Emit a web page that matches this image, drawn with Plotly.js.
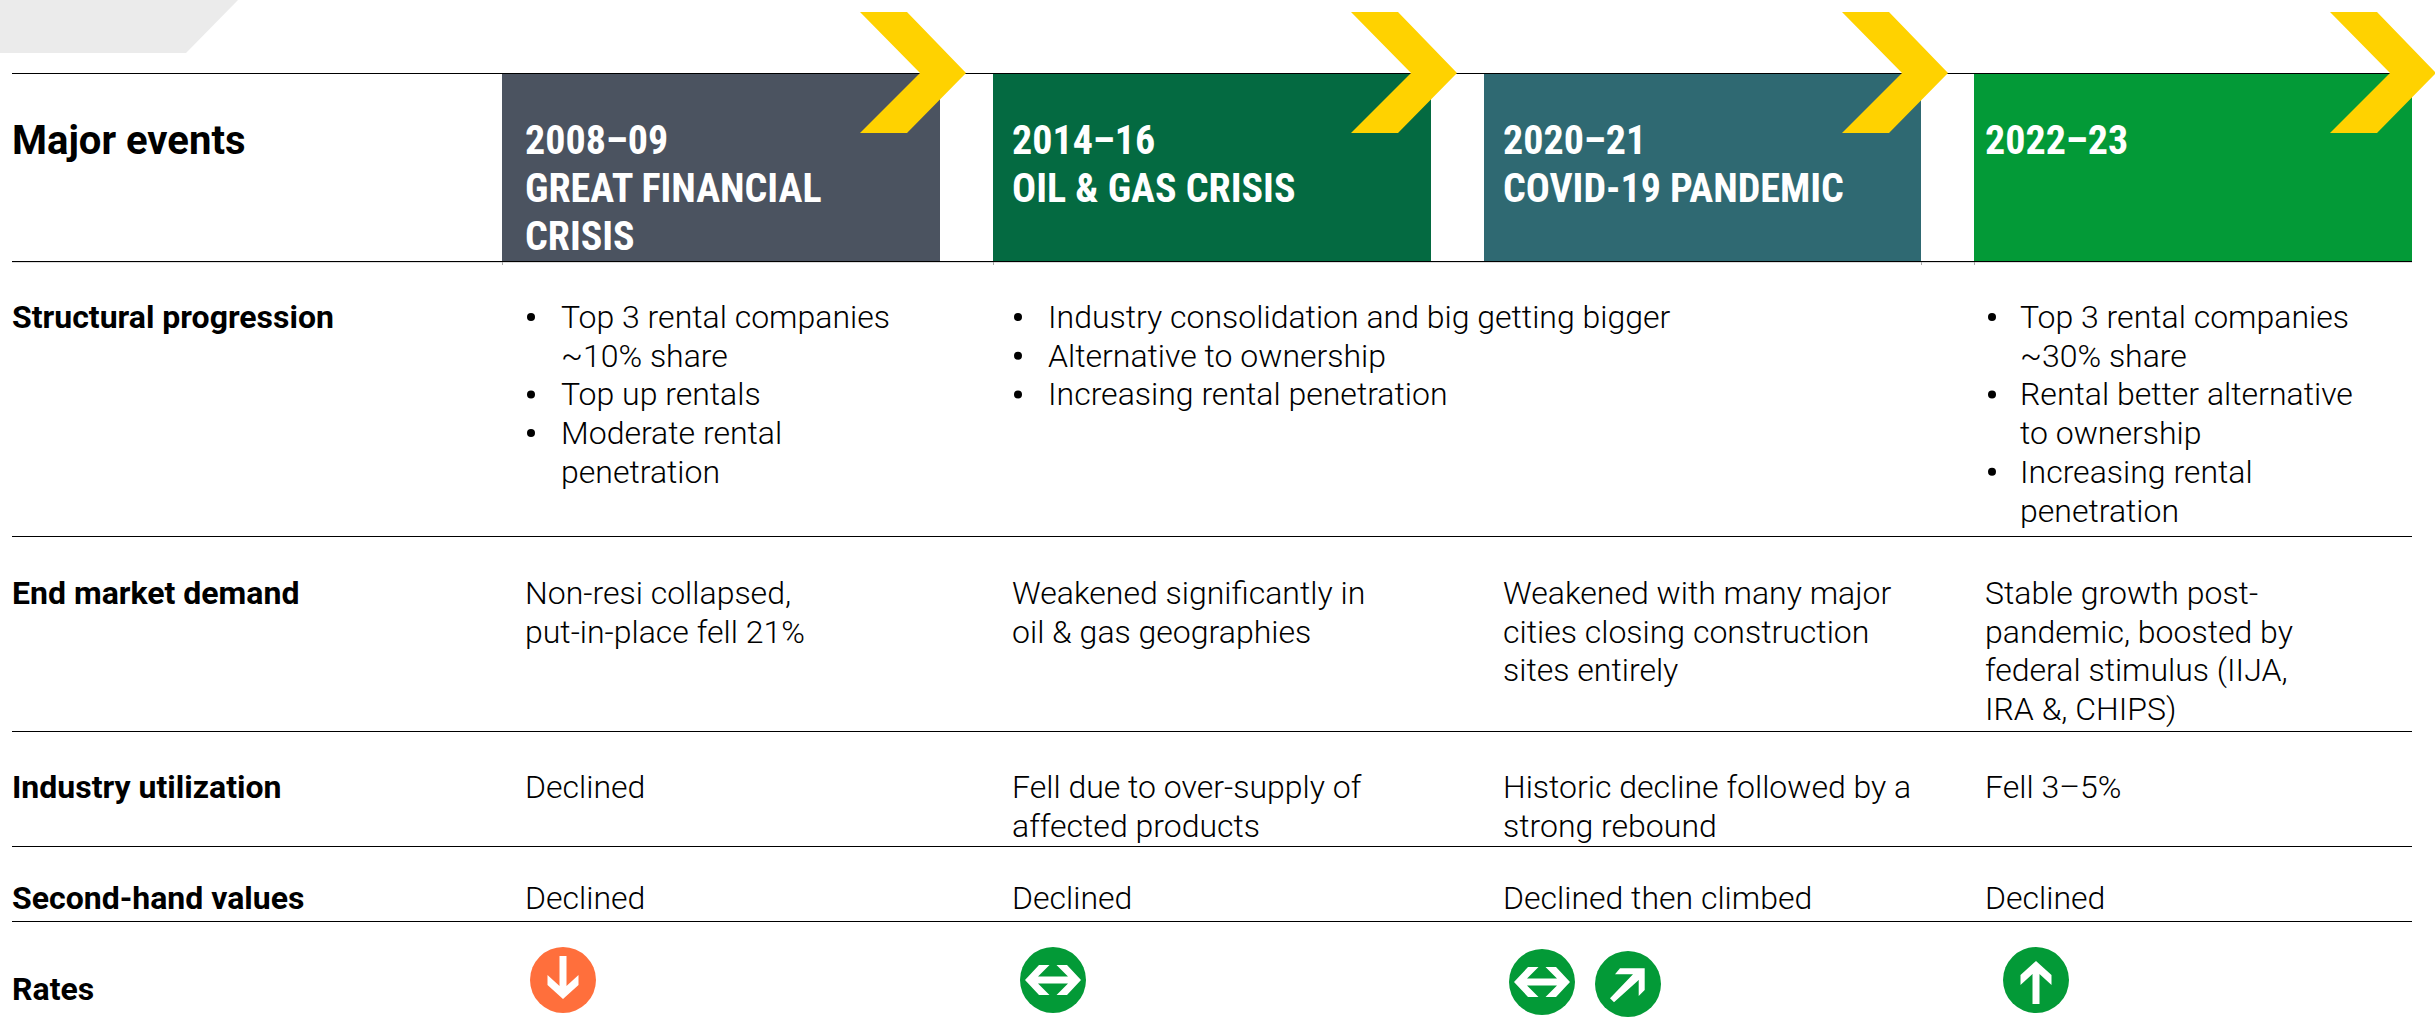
<!DOCTYPE html>
<html><head><meta charset="utf-8">
<script src="https://cdn.plot.ly/plotly-3.0.1.min.js"></script>
<style>html,body{margin:0;padding:0;background:#fff}#c{width:2435px;height:1025px}</style>
</head><body><div id="c"></div>
<script>
// ---- content ----
var headerYears = ["2008–09","2014–16","2020–21","2022–23"];
var headerNames = [["GREAT FINANCIAL","CRISIS"],["OIL & GAS CRISIS"],["COVID-19 PANDEMIC"],[]];
var headerColors = ["#4b5360","#046a41","#2f6972","#039a37"];
var rowLabels = ["Major events","Structural progression","End market demand","Industry utilization","Second-hand values","Rates"];
var structural1 = [["Top 3 rental companies","~10% share"],["Top up rentals"],["Moderate rental","penetration"]];
var structural2 = [["Industry consolidation and big getting bigger"],["Alternative to ownership"],["Increasing rental penetration"]];
var structural4 = [["Top 3 rental companies","~30% share"],["Rental better alternative","to ownership"],["Increasing rental","penetration"]];
var endMarket = [["Non-resi collapsed,","put-in-place fell 21%"],["Weakened significantly in","oil & gas geographies"],["Weakened with many major","cities closing construction","sites entirely"],["Stable growth post-","pandemic, boosted by","federal stimulus (IIJA,","IRA &, CHIPS)"]];
var utilization = [["Declined"],["Fell due to over-supply of","affected products"],["Historic decline followed by a","strong rebound"],["Fell 3–5%"]];
var secondHand = [["Declined"],["Declined"],["Declined then climbed"],["Declined"]];
var rateKinds = ["down","flat","flat","upright","up"];
var rateColors = ["#ff6f3c","#039a37","#039a37","#039a37","#039a37"];

// ---- layout geometry ----
var W=2435,H=1025;
var barX=[[502,940],[993,1431],[1484,1921],[1974,2412]];
var chevTip=[966,1457,1948,2436];
var colX=[523,1010,1501,1983];
var ruleY=[73.5,261.5,536.5,731.5,846.5,921.5];
var tickX=[502,993,1921,1974];
var labelY=[140,317,593,787,898,989];
var lineH=38.7;
var rateX=[563,1053,1542,1628,2036], rateY=[980,980,982,984,980];
var iconPaths={
 down:[[-3.5,-24],[3.5,-24],[3.5,6],[15.5,-5],[15.5,5],[0,19],[-15.5,5],[-15.5,-5],[-3.5,6]],
 up:[[-3.5,24],[3.5,24],[3.5,-6],[15.5,5],[15.5,-5],[0,-19],[-15.5,-5],[-15.5,5],[-3.5,-6]],
 flat:[[-28,0],[-14,-15],[-3.5,-15],[-15,-3.5],[15,-3.5],[3.5,-15],[14,-15],[28,0],[14,15],[3.5,15],[15,3.5],[-15,3.5],[-3.5,15],[-14,15]],
 upright:[[16.7,-15.7],[-8,-15.7],[-13,-9.7],[5,-9.7],[-18,14.3],[-14,18.3],[10.7,-4],[10.7,12],[16.7,6]]
};
var BODY='Roboto, sans-serif', HEAD='"Roboto Condensed","Liberation Sans Narrow",Roboto,sans-serif';

var annotations=[], shapes=[], bulletX=[], bulletY=[];
function txt(x,y,s,size,weight,color,fam){
 annotations.push({xref:'x',yref:'y',x:x,y:y,text:s,showarrow:false,xanchor:'left',yanchor:'middle',align:'left',
  font:{family:fam||BODY,size:size,weight:weight,color:color||'#000'}});
}
function poly(pts,fill,ox,oy,layer){
 var d=pts.map(function(p,i){return (i?'L':'M')+(p[0]+(ox||0))+','+(p[1]+(oy||0));}).join(' ')+' Z';
 shapes.push({type:'path',xref:'x',yref:'y',path:d,fillcolor:fill,line:{width:0},layer:layer||'above'});
}
poly([[0,0],[238,0],[186,53],[0,53]],'#ebebeb');
barX.forEach(function(b,i){
 shapes.push({type:'rect',xref:'x',yref:'y',x0:b[0],x1:b[1],y0:73,y1:261,fillcolor:headerColors[i],line:{width:0},layer:'above'});
});
shapes.push({type:'line',xref:'x',yref:'y',x0:12,x1:2412,y0:262.5,y1:262.5,line:{color:'#dddddd',width:1},layer:'above'});
tickX.forEach(function(x){
 shapes.push({type:'line',xref:'x',yref:'y',x0:x+0.5,x1:x+0.5,y0:262,y1:265,line:{color:'#aaaaaa',width:1},layer:'above'});
});
ruleY.forEach(function(y){
 shapes.push({type:'line',xref:'x',yref:'y',x0:12,x1:2412,y0:y,y1:y,line:{color:'#000',width:1},layer:'above'});
});
chevTip.forEach(function(t){
 poly([[-106,-61],[-59,-61],[0,0],[-59,60],[-106,60],[-46,0]],'#ffd200',t,73);
});
headerYears.forEach(function(y,i){
 txt(colX[i],140,y,40,700,'#fff',HEAD);
 headerNames[i].forEach(function(n,j){ txt(colX[i],188+48*j,n,40,700,'#fff',HEAD); });
});
txt(10,labelY[0],rowLabels[0],40,700);
for(var r=1;r<rowLabels.length;r++) txt(10,labelY[r],rowLabels[r],32,700);
function bullets(list,xb,xt){
 var k=0;
 list.forEach(function(it){
  bulletX.push(xb); bulletY.push(317+lineH*k);
  it.forEach(function(l){ txt(xt,317+lineH*k,l,32,300); k++; });
 });
}
bullets(structural1,531,559);
bullets(structural2,1018,1046);
bullets(structural4,1992,2018);
function block(list,y0){
 list.forEach(function(c,i){ c.forEach(function(l,j){ txt(colX[i],y0+lineH*j,l,32,300); }); });
}
block(endMarket,593);
block(utilization,787);
block(secondHand,898);
rateKinds.forEach(function(k,i){ poly(iconPaths[k],'#fff',rateX[i],rateY[i]); });

var traces=[
 {type:'scatter',mode:'markers',x:rateX,y:rateY,marker:{size:66,color:rateColors,line:{width:0}},hoverinfo:'skip',showlegend:false},
 {type:'scatter',mode:'markers',x:bulletX,y:bulletY,marker:{size:8,color:'#000',line:{width:0}},hoverinfo:'skip',showlegend:false}
];
var layout={width:W,height:H,margin:{l:0,r:0,t:0,b:0},paper_bgcolor:'#fff',plot_bgcolor:'#fff',showlegend:false,
 xaxis:{range:[0,W],visible:false,fixedrange:true},
 yaxis:{range:[H,0],visible:false,fixedrange:true},
 shapes:shapes,annotations:annotations};
Plotly.newPlot('c',traces,layout,{staticPlot:true,displayModeBar:false});
</script></body></html>
